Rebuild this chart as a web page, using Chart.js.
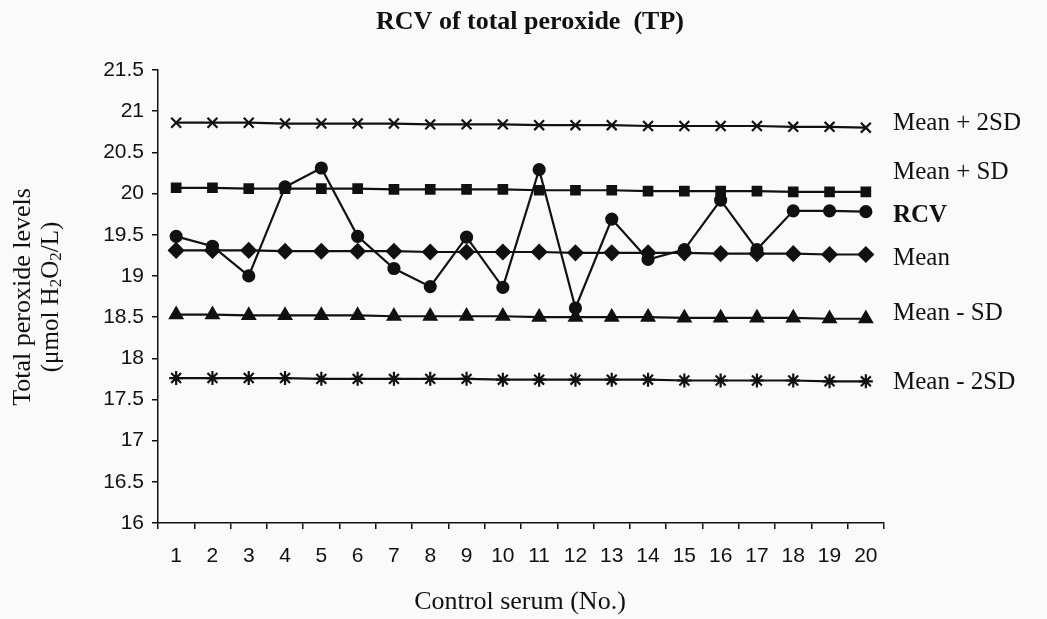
<!DOCTYPE html>
<html>
<head>
<meta charset="utf-8">
<script src="https://cdn.jsdelivr.net/npm/chart.js@4.4.0/dist/chart.umd.min.js"></script>
<style>
  html, body { margin: 0; padding: 0; background: #fafafa; }
  #wrap { width: 1047px; height: 619px; }
</style>
</head>
<body>
<div id="wrap"><canvas id="chart"></canvas></div>
<script>
const samples = ['1','2','3','4','5','6','7','8','9','10','11','12','13','14','15','16','17','18','19','20'];
const meanPlus2SD = [20.86,20.86,20.86,20.85,20.85,20.85,20.85,20.84,20.84,20.84,20.83,20.83,20.83,20.82,20.82,20.82,20.82,20.81,20.81,20.80];
const meanPlusSD = [20.07,20.07,20.06,20.06,20.06,20.06,20.05,20.05,20.05,20.05,20.04,20.04,20.04,20.03,20.03,20.03,20.03,20.02,20.02,20.02];
const rcv = [19.48,19.36,19.00,20.08,20.31,19.48,19.09,18.87,19.47,18.86,20.29,18.61,19.69,19.20,19.32,19.92,19.32,19.79,19.79,19.78];
const mean = [19.31,19.31,19.31,19.30,19.30,19.30,19.30,19.29,19.29,19.29,19.29,19.28,19.28,19.28,19.28,19.27,19.27,19.27,19.26,19.26];
const meanMinusSD = [18.53,18.53,18.52,18.52,18.52,18.52,18.51,18.51,18.51,18.51,18.50,18.50,18.50,18.50,18.49,18.49,18.49,18.49,18.48,18.48];
const meanMinus2SD = [17.76,17.76,17.76,17.76,17.75,17.75,17.75,17.75,17.75,17.74,17.74,17.74,17.74,17.74,17.73,17.73,17.73,17.73,17.72,17.72];

const ink = '#111';
const serif = "'Liberation Serif', 'Times New Roman', serif";
const sans = "'Liberation Sans', Arial, sans-serif";

function series(label, data, style, radius, endOffset, bold) {
  return {
    label: label,
    data: data,
    borderColor: ink,
    backgroundColor: ink,
    borderWidth: 2.2,
    pointStyle: style,
    pointRadius: radius,
    pointBorderWidth: 2.2,
    pointHoverRadius: radius,
    tension: 0,
    endOffset: endOffset,
    boldLabel: bold
  };
}

// labels at the right end of each line
const endLabels = {
  id: 'endLabels',
  afterDatasetsDraw(chart) {
    const ctx = chart.ctx;
    ctx.save();
    ctx.fillStyle = ink;
    ctx.textBaseline = 'middle';
    ctx.textAlign = 'left';
    chart.data.datasets.forEach((ds, i) => {
      const pts = chart.getDatasetMeta(i).data;
      const last = pts[pts.length - 1];
      ctx.font = (ds.boldLabel ? 'bold ' : '') + '25px ' + serif;
      ctx.fillText(ds.label, 893, last.y + ds.endOffset);
    });
    ctx.restore();
  }
};

// titles, with real subscripts in the y title
const titles = {
  id: 'titles',
  afterDraw(chart) {
    const ctx = chart.ctx;
    ctx.save();
    ctx.fillStyle = ink;
    ctx.textBaseline = 'middle';
    ctx.textAlign = 'center';
    ctx.font = 'bold 26px ' + serif;
    ctx.fillText('RCV of total peroxide  (TP)', 530, 22);
    ctx.font = '26px ' + serif;
    ctx.fillText('Control serum (No.)', 520, 602);

    ctx.translate(0, 297);
    ctx.rotate(-Math.PI / 2);
    ctx.fillText('Total peroxide levels', 0, 23);
    const parts = [['(\u03bcmol H', false], ['2', true], ['O', false], ['2', true], ['/L)', false]];
    const big = '25px ' + serif, small = '17px ' + serif;
    let w = 0;
    parts.forEach(p => { ctx.font = p[1] ? small : big; w += ctx.measureText(p[0]).width; });
    let x = -w / 2;
    ctx.textAlign = 'left';
    parts.forEach(p => {
      ctx.font = p[1] ? small : big;
      ctx.fillText(p[0], x, p[1] ? 57 : 51);
      x += ctx.measureText(p[0]).width;
    });
    ctx.restore();
  }
};

new Chart(document.getElementById('chart'), {
  type: 'line',
  data: {
    labels: samples,
    datasets: [
      series('Mean + 2SD', meanPlus2SD, 'crossRot', 7, -4, false),
      series('Mean + SD', meanPlusSD, 'rect', 6, -19, false),
      series('Mean', mean, 'rectRot', 7, 4, false),
      series('Mean - SD', meanMinusSD, 'triangle', 7, -5, false),
      series('Mean - 2SD', meanMinus2SD, 'star', 7, 1, false),
      series('RCV', rcv, 'circle', 5.5, 4, true)
    ]
  },
  options: {
    responsive: true,
    maintainAspectRatio: false,
    animation: false,
    layout: { padding: { left: 0, right: 163, top: 70, bottom: 0 } },
    plugins: {
      legend: { display: false },
      tooltip: { enabled: false },
      title: { display: false }
    },
    scales: {
      x: {
        offset: true,
        grid: { display: true, offset: true, drawOnChartArea: false, drawTicks: true, tickLength: 6, color: ink, lineWidth: 1.5 },
        border: { display: true, color: ink, width: 1.5 },
        ticks: { color: ink, font: { family: sans, size: 21 }, padding: 15, maxRotation: 0, autoSkip: false },
        afterFit(scale) { scale.height = 96; }
      },
      y: {
        min: 16,
        max: 21.5,
        grid: { display: true, drawOnChartArea: false, drawTicks: true, tickLength: 6, color: ink, lineWidth: 1.5 },
        border: { display: true, color: ink, width: 1.5 },
        ticks: { stepSize: 0.5, color: ink, font: { family: sans, size: 21 }, padding: 8, callback: v => String(v) },
        afterFit(scale) { scale.width = 158; }
      }
    }
  },
  plugins: [endLabels, titles]
});
</script>
</body>
</html>
